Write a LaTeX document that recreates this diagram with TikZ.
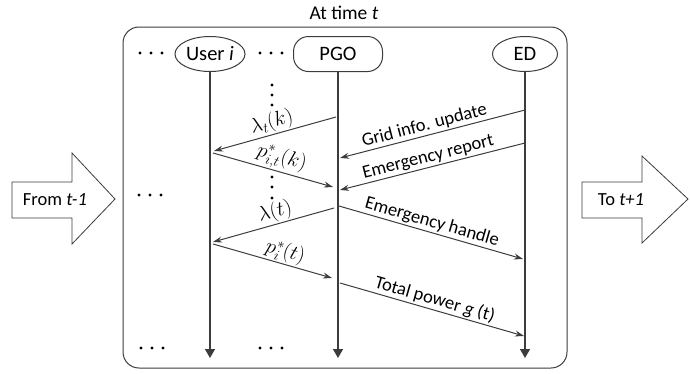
\documentclass[tikz,border=0pt]{standalone}
\usepackage{fontspec}
\setmainfont{Carlito}
\usetikzlibrary{arrows.meta,shapes.geometric}
\definecolor{ln}{HTML}{3C3C3C}
\tikzset{
  actor/.style={draw=ln, line width=1pt, fill=white, minimum height=35pt, inner sep=0pt, font=\fontsize{20.5}{24}\selectfont},
  msg/.style={draw=ln, line width=1pt, -{Stealth[length=9pt,width=6pt]}},
  life/.style={draw=ln, line width=1.4pt, -{Triangle[length=9pt,width=10pt]}},
  lbl/.style={sloped, above, inner sep=1.5pt},
  mlbl/.style={sloped, above, inner sep=1pt, font=\fontsize{21}{24}\selectfont},
  bigarrow/.style={draw=ln, line width=0.8pt, fill=white},
  dot/.style={fill=black, circle, inner sep=0pt, minimum size=3.4pt}
}
\begin{document}
\begin{tikzpicture}[x=1pt,y=-1pt,font=\fontsize{18.5}{22}\selectfont]
\useasboundingbox (0,0) rectangle (690,373);
% frame
\node (title) at (344,13) {\fontsize{19.5}{22}\selectfont At time \textit{t}};
\draw[draw=ln, line width=1pt, rounded corners=16pt] (123,27) rectangle (567,368);
% actors
\node[actor, ellipse, minimum width=70pt] (user) at (210,54) {User \textit{i}};
\node[actor, rounded corners=15pt, minimum width=89pt] (pgo) at (338,54) {PGO};
\node[actor, ellipse, minimum width=65pt] (ed) at (525,54) {ED};
% lifeline ends
\coordinate (ue) at (210,358);
\coordinate (pe) at (338,358);
\coordinate (ee) at (525,358);
\draw[life] (user.south) -- (ue);
\draw[life] (pgo.south) -- (pe);
\draw[life] (ed.south) -- (ee);
% dots
\foreach \cx/\cy in {151/53, 271/53, 150/195, 152/348, 271/348}{
  \node[dot] at (\cx-11,\cy) {};
  \node[dot] at (\cx,\cy) {};
  \node[dot] at (\cx+11,\cy) {};
}
\foreach \cy in {85,95,105, 177,187,198}{
  \node[dot] at (272,\cy) {};
}
% message points
\coordinate (a1) at (336,117); \coordinate (b1) at (214,151);
\coordinate (a2) at (213,153); \coordinate (b2) at (333,187);
\coordinate (a3) at (525,110); \coordinate (b3) at (340,158);
\coordinate (a4) at (525,143); \coordinate (b4) at (340,190);
\coordinate (a5) at (334,208); \coordinate (b5) at (213,242);
\coordinate (a6) at (339,206); \coordinate (b6) at (523,259);
\coordinate (a7) at (213,244); \coordinate (b7) at (332,278);
\coordinate (a8) at (340,283); \coordinate (b8) at (524,336);
\draw[msg] (a1) -- node[mlbl, pos=0.5] {$\lambda_t(k)$} (b1);
\draw[msg] (a2) -- node[mlbl, pos=0.54] {$p^*_{i,t}(k)$} (b2);
\draw[msg] (a3) -- node[lbl, pos=0.53] {Grid info. update} (b3);
\draw[msg] (a4) -- node[lbl, pos=0.51] {Emergency report} (b4);
\draw[msg] (a5) -- node[mlbl, pos=0.46] {$\lambda(t)$} (b5);
\draw[msg] (a6) -- node[lbl, pos=0.49] {Emergency handle} (b6);
\draw[msg] (a7) -- node[mlbl, pos=0.58] {$p^*_{i}(t)$} (b7);
\draw[msg] (a8) -- node[lbl, pos=0.5] {Total power \textit{g} (t)} (b8);
% big arrows
\draw[bigarrow] (12,182) -- (72,182) -- (72,153) -- (115,199) -- (72,244) -- (72,218) -- (12,218) -- cycle;
\node (from) at (55,200) {From \textit{t-1}};
\draw[bigarrow] (582,182) -- (642,182) -- (642,156) -- (688,199) -- (642,243) -- (642,218) -- (582,218) -- cycle;
\node (to) at (621,200) {To \textit{t+1}};
\end{tikzpicture}
\end{document}
